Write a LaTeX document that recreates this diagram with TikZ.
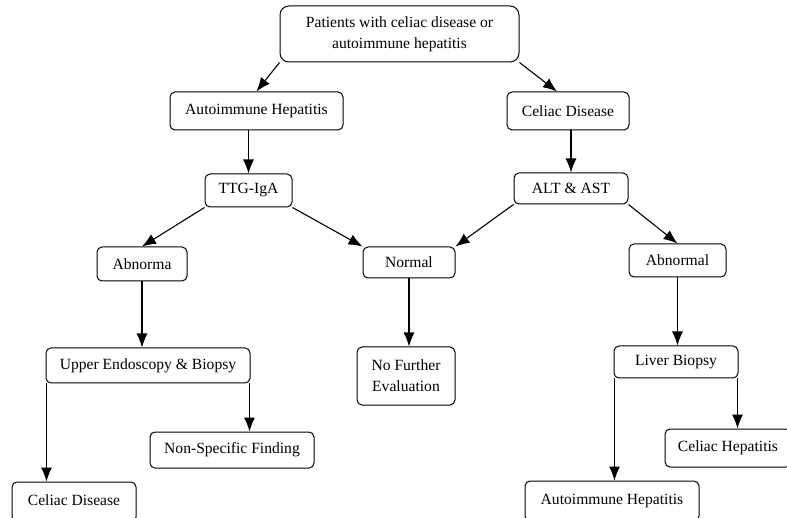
\documentclass[tikz,border=0pt]{standalone}
\usepackage{fontspec}
\setmainfont{Liberation Serif}
\usetikzlibrary{arrows.meta}

\tikzstyle{box}=[draw, line width=1pt, rounded corners=5pt, inner sep=0pt, align=center, font=\fontsize{15.6}{21}\selectfont]
\tikzstyle{flow}=[-{Latex[length=14pt,width=11pt]}, line width=1.1pt]

\begin{document}
\begin{tikzpicture}[x=1pt, y=-1pt]
    \useasboundingbox (0,0) rectangle (787,518);
    \clip (0,0) rectangle (787,518);
    \node[box, rounded corners=9pt, minimum width=239pt, minimum height=56pt] (patients) at (399.5, 34) {Patients with celiac disease or\\autoimmune hepatitis};
    \node[box, minimum width=173pt, minimum height=38pt] (aih) at (256.5, 111) {Autoimmune Hepatitis};
    \node[box, minimum width=122pt, minimum height=38pt] (celiac) at (568, 111) {Celiac Disease};
    \node[box, minimum width=87pt, minimum height=33pt] (ttg) at (248.5, 190.5) {TTG-IgA};
    \node[box, minimum width=114pt, minimum height=31pt] (altast) at (571, 188.5) {ALT \& AST};
    \node[box, minimum width=90pt, minimum height=34pt] (abnorma) at (142, 264) {Abnorma};
    \node[box, minimum width=92pt, minimum height=31pt] (normal) at (409, 262.5) {Normal};
    \node[box, minimum width=97pt, minimum height=33pt] (abnormal) at (677.5, 260.5) {Abnormal};
    \node[box, minimum width=204pt, minimum height=35pt] (upper) at (148, 365.5) {Upper Endoscopy \& Biopsy};
    \node[box, minimum width=98pt, minimum height=58pt] (nofurther) at (406, 376) {No Further\\Evaluation};
    \node[box, minimum width=124pt, minimum height=32pt] (liver) at (676, 362) {Liver Biopsy};
    \node[box, minimum width=164pt, minimum height=36pt] (nonspec) at (232, 450) {Non-Specific Finding};
    \node[box, minimum width=126pt, minimum height=38pt] (celiachep) at (728, 448) {Celiac Hepatitis};
    % bottom row runs past the lower edge
    \node[box, minimum width=124pt, minimum height=40pt] (celiacdx) at (74, 502) {\raisebox{3pt}{Celiac Disease}};
    \node[box, minimum width=174pt, minimum height=40pt] (aihfinal) at (612, 501) {\raisebox{2pt}{Autoimmune Hepatitis}};
    \draw[flow] (patients.south west) to (aih.north);
    \draw[flow] (patients.south east) to ([xshift=-11pt]celiac.north);
    \draw[flow] (ttg.north |- aih.south) to (ttg.north);
    \draw[flow] (altast.north |- celiac.south) to (altast.north);
    \draw[flow] (ttg.south west) to (abnorma.north);
    \draw[flow] (ttg.south east) to (normal.north west);
    \draw[flow] (altast.south west) to (normal.north east);
    \draw[flow] (altast.south east) to (abnormal.north);
    \draw[flow] (abnorma.south) to (abnorma.south |- upper.north);
    \draw[flow] (normal.south) to (normal.south |- nofurther.north);
    \draw[flow] (abnormal.south) to (abnormal.south |- liver.north);
    \draw[flow] ([xshift=-1pt]upper.south east) to ([xshift=-1pt]upper.south east |- nonspec.north);
    \draw[flow] ([xshift=1pt]upper.south west) to ([xshift=1pt]upper.south west |- celiacdx.north);
    \draw[flow] ([xshift=1pt]liver.south west) to ([xshift=1pt]liver.south west |- aihfinal.north);
    \draw[flow] ([xshift=-1pt]liver.south east) to ([xshift=-1pt]liver.south east |- celiachep.north);
\end{tikzpicture}
\end{document}
